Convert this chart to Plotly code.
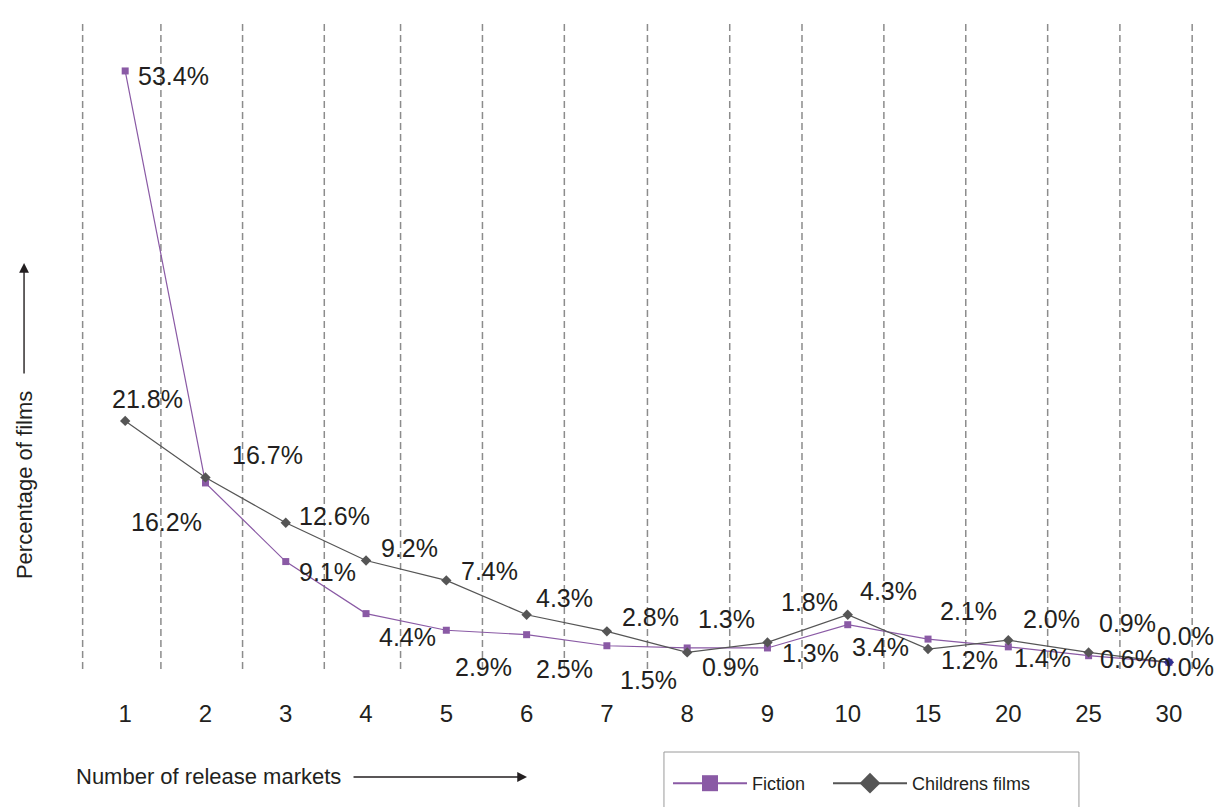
import plotly.graph_objects as go

# ---- data ----
categories = ['1', '2', '3', '4', '5', '6', '7', '8', '9', '10', '15', '20', '25', '30']
fiction = [53.4, 16.2, 9.1, 4.4, 2.9, 2.5, 1.5, 1.3, 1.3, 3.4, 2.1, 1.4, 0.6, 0.0]
childrens = [21.8, 16.7, 12.6, 9.2, 7.4, 4.3, 2.8, 0.9, 1.8, 4.3, 1.2, 2.0, 0.9, 0.0]

# label offsets in screen pixels (dx right, dy down)
fiction_offsets = [(48, 5), (-39, 39), (42, 10), (41, 23), (37, 37), (38, 34), (42, 34),
                   (39, -29), (43, 5), (33, 22), (40, -28), (34, 11), (40, 3), (17, 5)]
childrens_offsets = [(22, -22), (62, -22), (49, -7), (43, -12), (43, -9), (38, -17), (44, -14),
                     (43, 15), (42, -40), (41, -24), (41, 11), (43, -21), (39, -29), (17, -26)]
grid_positions = [-0.53, 0.445, 1.462, 2.48, 3.43, 4.45, 5.47, 6.505, 7.53, 8.43,
                  9.45, 10.47, 11.49, 12.39, 13.29]

FICTION_COLOR = '#8A5AA5'
CHILD_COLOR = '#555555'
TEXT_COLOR = '#231f20'
FONT = 'Liberation Sans, Arial, Helvetica, sans-serif'

W, H = 1219, 807

xs = list(range(len(categories)))
child_marker_colors = [CHILD_COLOR] * (len(xs) - 1) + ['#2E3192']

fig = go.Figure()
fig.add_trace(go.Scatter(x=xs, y=fiction, mode='lines+markers', name='Fiction',
                         line=dict(color=FICTION_COLOR, width=1.2),
                         marker=dict(symbol='square', size=7, color=FICTION_COLOR),
                         showlegend=False))
fig.add_trace(go.Scatter(x=xs, y=childrens, mode='lines+markers', name='Childrens films',
                         line=dict(color=CHILD_COLOR, width=1.2),
                         marker=dict(symbol='diamond', size=8, color=child_marker_colors),
                         showlegend=False))
# legend entries (larger symbols, as in the original key)
fig.add_trace(go.Scatter(x=[None], y=[None], mode='lines+markers', name='Fiction',
                         line=dict(color=FICTION_COLOR, width=2),
                         marker=dict(symbol='square', size=16, color=FICTION_COLOR),
                         legend='legend'))
fig.add_trace(go.Scatter(x=[None], y=[None], mode='lines+markers', name='Childrens films',
                         line=dict(color=CHILD_COLOR, width=2),
                         marker=dict(symbol='diamond', size=16, color=CHILD_COLOR),
                         legend='legend2'))

annotations = []
for series, offsets in ((fiction, fiction_offsets), (childrens, childrens_offsets)):
    for x, v, (dx, dy) in zip(xs, series, offsets):
        annotations.append(dict(x=x, y=v, xref='x', yref='y', text=f'{v:.1f}%',
                                showarrow=False, xshift=dx, yshift=-dy,
                                font=dict(size=25, color=TEXT_COLOR, family=FONT)))

# axis titles with arrows
annotations += [
    dict(x=0.1197, y=-0.1649, xref='paper', yref='paper', text='Number of release markets',
         xanchor='center', yanchor='middle', showarrow=False,
         font=dict(size=22, color=TEXT_COLOR, family=FONT)),
    dict(x=0.4025, y=-0.1664, xref='paper', yref='paper', text='', showarrow=True,
         ax=-175, ay=0, arrowhead=2, arrowsize=1.4, arrowwidth=1.4, arrowcolor='#231f20'),
    dict(x=-0.0434, y=0.2835, xref='paper', yref='paper', text='Percentage of films',
         xanchor='center', yanchor='middle', textangle=-90, showarrow=False,
         font=dict(size=22, color=TEXT_COLOR, family=FONT)),
    dict(x=-0.0434, y=0.6256, xref='paper', yref='paper', text='', showarrow=True,
         ax=0, ay=112, arrowhead=2, arrowsize=1.4, arrowwidth=1.4, arrowcolor='#231f20'),
]

shapes = [dict(type='line', xref='x', yref='paper', x0=g, x1=g, y0=0, y1=1,
               line=dict(color='#8c8c8c', width=1.5, dash='7px,4px'), layer='below')
          for g in grid_positions]
# legend frame
shapes.append(dict(type='rect', xref='paper', yref='paper', x0=0.5239, x1=0.8918,
                   y0=-0.1279, y1=-0.26, line=dict(color='#9a9a9a', width=1),
                   fillcolor='rgba(0,0,0,0)'))

legend_common = dict(orientation='h', xref='container', yref='container',
                     xanchor='left', yanchor='top', borderwidth=0,
                     bgcolor='rgba(0,0,0,0)', itemwidth=74,
                     font=dict(size=18, color=TEXT_COLOR, family=FONT))

fig.update_layout(
    width=W, height=H,
    margin=dict(l=73, r=18, t=20, b=138),
    paper_bgcolor='white', plot_bgcolor='white',
    font=dict(family=FONT, color=TEXT_COLOR),
    xaxis=dict(range=[-0.65, 13.4], tickvals=xs, ticktext=categories,
               showgrid=False, zeroline=False, showline=False, ticks='',
               tickfont=dict(size=24, color=TEXT_COLOR), ticklabelstandoff=28),
    yaxis=dict(range=[-0.6, 58.0], showgrid=False, zeroline=False, showline=False,
               showticklabels=False, ticks=''),
    legend=dict(x=668 / W, y=1 - 765 / H, **legend_common),
    legend2=dict(x=828 / W, y=1 - 765 / H, **legend_common),
    annotations=annotations,
    shapes=shapes,
)

fig.write_html('out.html', config={'displayModeBar': False},
               post_script="document.body.style.margin='0';")
